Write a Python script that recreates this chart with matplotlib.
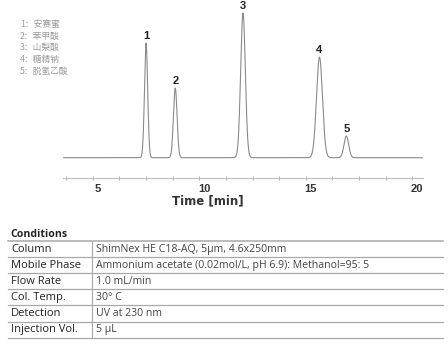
import numpy as np
import matplotlib
matplotlib.use("Agg")
import matplotlib.pyplot as plt
import matplotlib.transforms as mtransforms

# ---- data ----
peak_ids = ["1", "2", "3", "4", "5"]
peak_times = [7.50, 8.87, 12.05, 15.64, 16.90]      # min
peak_heights = [114.7, 69.7, 144.7, 100.7, 21.7]     # detector response (a.u.)
peak_sigmas = [0.075, 0.085, 0.11, 0.14, 0.11]       # min
compounds = ["安赛蜜", "苯甲酸", "山梨酸", "糖精钠", "脱氢乙酸"]
xticks = [5, 10, 15, 20]
cond_names = ["Column", "Mobile Phase", "Flow Rate", "Col. Temp.", "Detection", "Injection Vol."]
cond_values = ["ShimNex HE C18-AQ, 5μm, 4.6x250mm",
               "Ammonium acetate (0.02mol/L, pH 6.9): Methanol=95: 5",
               "1.0 mL/min",
               "30° C",
               "UV at 230 nm",
               "5 μL"]

W, H = 448, 344
fig = plt.figure(figsize=(W / 100, H / 100), dpi=100)

# ---- chromatogram ----
ax = fig.add_axes([63 / W, 1 - 178 / H, 360 / W, 173 / H])
t = np.linspace(3.6, 20.5, 4000)
signal = np.zeros_like(t)
for tr, h, s in zip(peak_times, peak_heights, peak_sigmas):
    signal += h * np.exp(-0.5 * ((t - tr) / s) ** 2)
ax.plot(t, signal, color="#8a8a8a", lw=0.8)
for pid, tr, h in zip(peak_ids, peak_times, peak_heights):
    ax.annotate(pid, (tr, h), xytext=(0, 1.5), textcoords="offset points",
                ha="center", va="bottom", fontsize=8, fontweight="bold",
                family="Liberation Sans", color="#222222")
ax.set_xlim(3.6, 20.5)
ax.set_ylim(-20.3, 152.7)
for sp in ["left", "right", "top"]:
    ax.spines[sp].set_visible(False)
ax.spines["bottom"].set_color("#bbbbbb")
ax.spines["bottom"].set_linewidth(0.8)
ax.set_yticks([])
ax.set_xticks(xticks)
ax.set_xticks(np.arange(3.75, 20.6, 1.25), minor=True)
ax.tick_params(axis="x", which="both", direction="inout", length=3, width=0.6,
               color="#aaaaaa", pad=3, labelsize=8, labelcolor="#333333")
shift = mtransforms.ScaledTranslation(5 / 100, 0, fig.dpi_scale_trans)
for lab in ax.get_xticklabels():
    lab.set_fontweight("bold")
    lab.set_family("Liberation Sans")
    lab.set_transform(lab.get_transform() + shift)
ax.set_xlabel("Time [min]", fontsize=8.5, fontweight="bold", family="DejaVu Sans",
              color="#333333")
ax.xaxis.set_label_coords((207.5 - 63) / 360, -(201 - 178) / 173)
ax.xaxis.label.set_va("center")

# ---- overlay in pixel coordinates ----
ov = fig.add_axes([0, 0, 1, 1])
ov.set_xlim(0, W)
ov.set_ylim(H, 0)
ov.axis("off")

# compound legend
for i, (pid, name) in enumerate(zip(peak_ids, compounds)):
    ov.text(20, 24.3 + i * 11.7, f"{pid}：{name}", fontsize=6.3,
            family=["Noto Sans CJK SC", "DejaVu Sans"], color="#9a9a9a",
            va="center", ha="left")

# conditions table
ov.text(10, 234.5, "Conditions", fontsize=7.6, fontweight="bold",
        family="Open Sans", color="#222222", va="center", ha="left")
top, row_h = 241, 16.1
n = len(cond_names)
for i in range(n + 1):
    y = top + i * row_h
    ov.plot([8, 443], [y, y], color="#a8a8a8", lw=0.9 if i else 1.1)
ov.plot([92.3, 92.3], [top, top + n * row_h], color="#a8a8a8", lw=0.8)
for i, (nm, val) in enumerate(zip(cond_names, cond_values)):
    yc = top + (i + 0.5) * row_h
    ov.text(11, yc, nm, fontsize=8.0, family="Open Sans", color="#222222",
            va="center", ha="left")
    ov.text(96.5, yc, val, fontsize=7.55, family="Open Sans", color="#444444",
            va="center", ha="left")

fig.savefig("out.png", dpi=100)
